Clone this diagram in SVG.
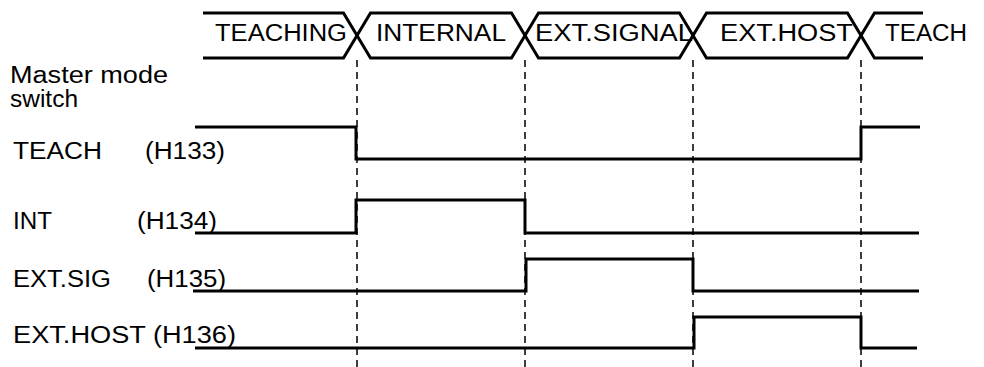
<svg xmlns="http://www.w3.org/2000/svg" width="984" height="367" viewBox="0 0 984 367">
<style>
text{font-family:"Liberation Sans",Arial,sans-serif;font-size:23.5px;fill:#000}
.bus,.sig{fill:none;stroke:#000;stroke-width:3;stroke-linejoin:miter}
.grid{stroke:#000;stroke-width:1.5;stroke-dasharray:7,5;fill:none}
</style>
<rect width="984" height="367" fill="#fff"/>
<g id="connectors">
<line class="grid" x1="357" y1="60" x2="357" y2="367"/>
<line class="grid" x1="525" y1="60" x2="525" y2="367"/>
<line class="grid" x1="693" y1="60" x2="693" y2="367"/>
<line class="grid" x1="861" y1="60" x2="861" y2="367"/>
</g>
<g id="labels">
<text x="10" y="83" textLength="158" lengthAdjust="spacingAndGlyphs">Master mode</text>
<text x="10" y="107" textLength="68" lengthAdjust="spacingAndGlyphs">switch</text>
<text x="13" y="159" textLength="89" lengthAdjust="spacingAndGlyphs">TEACH</text>
<text x="145" y="159" textLength="80" lengthAdjust="spacingAndGlyphs">(H133)</text>
<text x="13" y="229" textLength="39" lengthAdjust="spacingAndGlyphs">INT</text>
<text x="137" y="229" textLength="80" lengthAdjust="spacingAndGlyphs">(H134)</text>
<text x="13" y="287" textLength="98" lengthAdjust="spacingAndGlyphs">EXT.SIG</text>
<text x="147" y="287" textLength="79" lengthAdjust="spacingAndGlyphs">(H135)</text>
<text x="13" y="343" textLength="223" lengthAdjust="spacingAndGlyphs">EXT.HOST (H136)</text>
</g>
<g id="master-mode-bus">
<path class="bus" d="M203,13 H343.5 L357,35.5 L343.5,58 H203"/>
<path class="bus" d="M357,35.5 L370.5,13 H511.5 L525,35.5 L511.5,58 H370.5 Z"/>
<path class="bus" d="M525,35.5 L538.5,13 H679.5 L693,35.5 L679.5,58 H538.5 Z"/>
<path class="bus" d="M693,35.5 L706.5,13 H847.5 L861,35.5 L847.5,58 H706.5 Z"/>
<path class="bus" d="M923,13 H874.5 L861,35.5 L874.5,58 H923"/>
<text x="215" y="41" textLength="132" lengthAdjust="spacingAndGlyphs">TEACHING</text>
<text x="376" y="41" textLength="130" lengthAdjust="spacingAndGlyphs">INTERNAL</text>
<text x="535" y="41" textLength="158" lengthAdjust="spacingAndGlyphs">EXT.SIGNAL</text>
<text x="720" y="41" textLength="133" lengthAdjust="spacingAndGlyphs">EXT.HOST</text>
<text x="885" y="41" textLength="82" lengthAdjust="spacingAndGlyphs">TEACH</text>
</g>
<g id="teach-signal">
<path class="sig" d="M195,127 H356 V159 H861 V127 H920"/>
</g>
<g id="int-signal">
<path class="sig" d="M195,233 H356 V200 H525 V233 H919"/>
</g>
<g id="extsig-signal">
<path class="sig" d="M193,291 H526 V259 H693 V291 H919"/>
</g>
<g id="exthost-signal">
<path class="sig" d="M195,348 H694 V317 H861 V348 H917"/>
</g>
</svg>
